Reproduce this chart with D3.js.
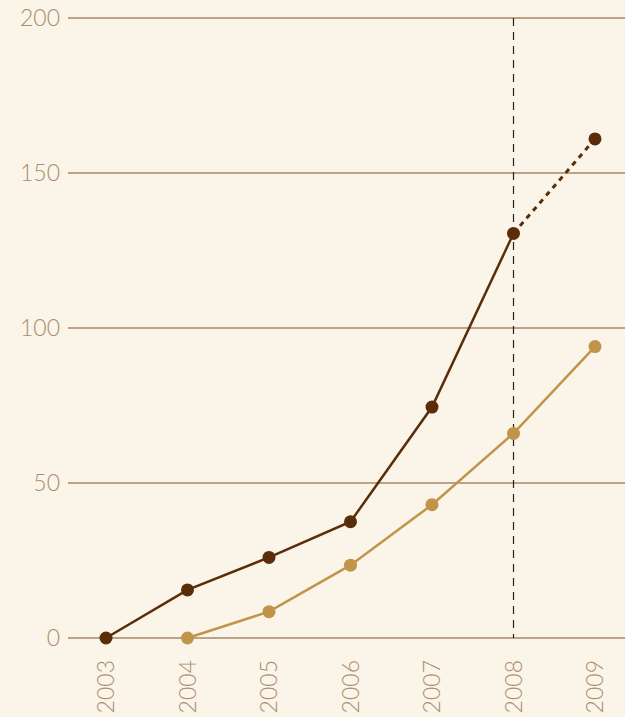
<!DOCTYPE html>
<html>
<head>
<meta charset="utf-8">
<script src="https://cdn.jsdelivr.net/npm/d3@7"></script>
<style>
  html, body { margin: 0; padding: 0; background: #fbf4e9; }
  svg text { font-family: Lato, "Open Sans", sans-serif; font-weight: 300; fill: #ab8c6c; }
</style>
</head>
<body>
<svg id="chart" width="625" height="717"></svg>
<script>
var years = ["2003", "2004", "2005", "2006", "2007", "2008", "2009"];
var darkSeries = [0, 15.5, 26, 37.5, 74.5, 130.5, 161];
var lightSeries = [null, 0, 8.5, 23.5, 43, 66, 94];
var yTicks = [0, 50, 100, 150, 200];
var splitYear = "2008";

var svg = d3.select("#chart");
var width = 625, height = 717;

var x = d3.scalePoint().domain(years).range([106, 595]);
var y = d3.scaleLinear().domain([0, 200]).range([638, 18]);

svg.append("rect").attr("width", width).attr("height", height).attr("fill", "#fbf4e9");

// horizontal grid
svg.append("g")
    .selectAll("line")
    .data(yTicks)
    .enter()
    .append("line")
    .attr("x1", 68)
    .attr("x2", width)
    .attr("y1", d => y(d))
    .attr("y2", d => y(d))
    .attr("stroke", "#a68767")
    .attr("stroke-width", 1.3);

svg.append("g")
    .selectAll("text")
    .data(yTicks)
    .enter()
    .append("text")
    .attr("x", 60)
    .attr("y", d => y(d))
    .attr("dy", "0.35em")
    .attr("text-anchor", "end")
    .style("font-size", "23px")
    .text(d => d);

// year labels, rotated
svg.append("g")
    .selectAll("text")
    .data(years)
    .enter()
    .append("text")
    .attr("transform", d => "translate(" + x(d) + ",660) rotate(-90)")
    .attr("dy", "0.35em")
    .attr("text-anchor", "end")
    .style("font-size", "23px")
    .text(d => d);

// vertical dashed marker
svg.append("line")
    .attr("x1", x(splitYear))
    .attr("x2", x(splitYear))
    .attr("y1", y(200))
    .attr("y2", y(0))
    .attr("stroke", "#222")
    .attr("stroke-width", 1.2)
    .attr("stroke-dasharray", "8,6");

var line = d3.line()
    .defined(d => d.v != null)
    .x(d => x(d.year))
    .y(d => y(d.v));

function pts(values) {
    return years.map((yr, i) => ({ year: yr, v: values[i] }));
}

var light = pts(lightSeries);
var dark = pts(darkSeries);
var splitIdx = years.indexOf(splitYear);

svg.append("path")
    .attr("d", line(light))
    .attr("fill", "none")
    .attr("stroke", "#c0954a")
    .attr("stroke-width", 2.5);

svg.append("path")
    .attr("d", line(dark.slice(0, splitIdx + 1)))
    .attr("fill", "none")
    .attr("stroke", "#5a2d08")
    .attr("stroke-width", 2.5);

svg.append("path")
    .attr("d", line(dark.slice(splitIdx)))
    .attr("fill", "none")
    .attr("stroke", "#5a2d08")
    .attr("stroke-width", 3)
    .attr("stroke-dasharray", "5,5");

svg.append("g")
    .selectAll("circle")
    .data(light.filter(d => d.v != null))
    .enter()
    .append("circle")
    .attr("cx", d => x(d.year))
    .attr("cy", d => y(d.v))
    .attr("r", 6.5)
    .attr("fill", "#c0954a");

svg.append("g")
    .selectAll("circle")
    .data(dark)
    .enter()
    .append("circle")
    .attr("cx", d => x(d.year))
    .attr("cy", d => y(d.v))
    .attr("r", 6.5)
    .attr("fill", "#5a2d08");
</script>
</body>
</html>
